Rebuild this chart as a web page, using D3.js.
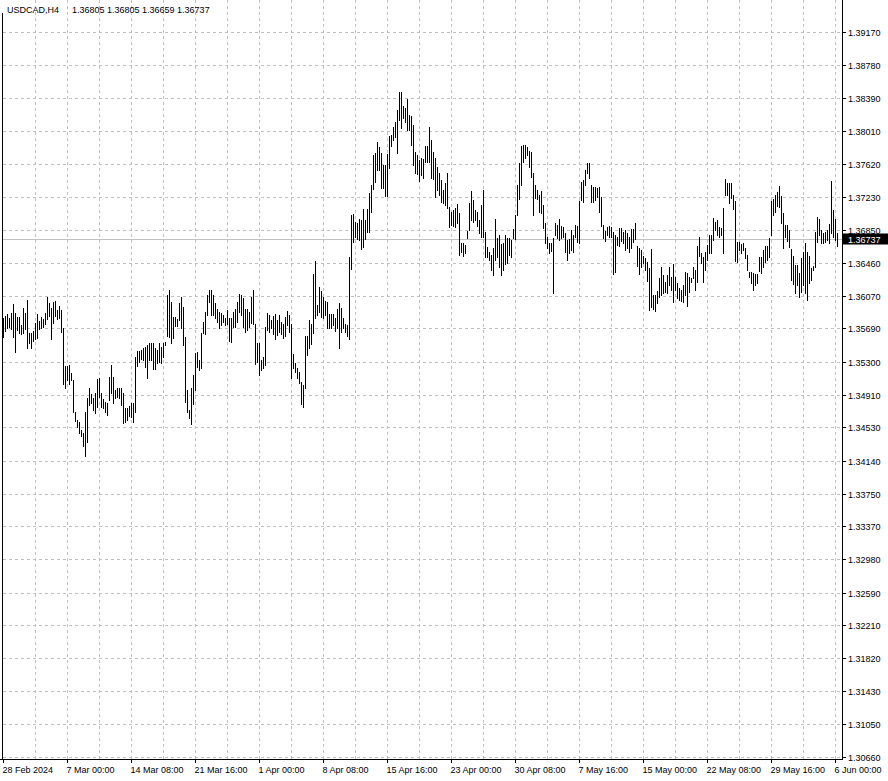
<!DOCTYPE html>
<html><head><meta charset="utf-8">
<script src="https://cdn.jsdelivr.net/npm/d3@7"></script>
<style>
html,body{margin:0;padding:0;background:#fff;}
svg{display:block;}
text{font-family:"Liberation Sans",Arial,sans-serif;font-size:9px;fill:#000;}
</style></head>
<body><svg id="c" width="888" height="781"></svg>
<script>
const symbol = "USDCAD,H4";
const lastOHLC = ["1.36805","1.36805","1.36659","1.36737"];
const lastPrice = 1.36737;
const yTicks = ["1.39170","1.38780","1.38390","1.38010","1.37620","1.37230","1.36850","1.36460","1.36070","1.35690","1.35300","1.34910","1.34530","1.34140","1.33750","1.33370","1.32980","1.32590","1.32210","1.31820","1.31430","1.31050","1.30660"];
const xLabels = ["28 Feb 2024","7 Mar 00:00","14 Mar 08:00","21 Mar 16:00","1 Apr 00:00","8 Apr 08:00","15 Apr 16:00","23 Apr 00:00","30 Apr 08:00","7 May 16:00","15 May 00:00","22 May 08:00","29 May 16:00","6 Jun 00:00"];
const barsPerLabel = 32;
const highs = [
1.35809,1.35836,1.35856,1.35809,1.35868,1.35973,1.35868,1.35821,1.35829,1.35731,
1.35926,1.35868,1.36024,1.35633,1.35641,1.35664,1.35750,1.35856,1.35782,1.35821,
1.35797,1.35876,1.36063,1.35985,1.35926,1.36005,1.36016,1.35907,1.35954,1.35907,
1.35692,1.35249,1.35249,1.35261,1.35163,1.35085,1.34713,1.34616,1.34596,1.34498,
1.34459,1.34713,1.34870,1.34987,1.34921,1.34870,1.34929,1.35097,1.35105,1.34929,
1.34858,1.34831,1.34811,1.35124,1.35261,1.35116,1.34968,1.34987,1.34987,1.34987,
1.34929,1.34752,1.34752,1.34780,1.34811,1.34811,1.35351,1.35429,1.35429,1.35437,
1.35457,1.35476,1.35496,1.35516,1.35523,1.35516,1.35457,1.35437,1.35523,1.35476,
1.35516,1.35535,1.36083,1.36142,1.36005,1.35829,1.35829,1.35797,1.35985,1.36063,
1.35946,1.35594,1.34968,1.34733,1.34987,1.35144,1.35406,1.35418,1.35320,1.35641,
1.35770,1.35887,1.36083,1.36142,1.36142,1.36083,1.35985,1.35918,1.35887,1.35868,
1.35848,1.35809,1.35907,1.35809,1.35809,1.35887,1.35918,1.36005,1.36091,1.36083,
1.36052,1.35918,1.35918,1.35887,1.36063,1.36142,1.35738,1.35515,1.35515,1.35320,
1.35359,1.35703,1.35868,1.35848,1.35789,1.35840,1.35856,1.35789,1.35848,1.35770,
1.35738,1.35828,1.35895,1.35848,1.35738,1.35386,1.35281,1.35230,1.35183,1.35065,
1.35026,1.35605,1.35605,1.35789,1.35738,1.36325,1.36482,1.35965,1.36181,1.36130,
1.36063,1.36012,1.35997,1.35856,1.35856,1.35856,1.35809,1.35918,1.35985,1.35926,
1.35809,1.35738,1.35731,1.36529,1.37022,1.37030,1.36944,1.36924,1.36975,1.36963,
1.37092,1.36963,1.37092,1.37276,1.37374,1.37726,1.37746,1.37875,1.37824,1.37746,
1.37609,1.37609,1.37734,1.37953,1.37961,1.38059,1.38118,1.38255,1.38462,1.38462,
1.38305,1.38274,1.38384,1.38196,1.38188,1.38078,1.37757,1.37726,1.37667,1.37687,
1.37675,1.37832,1.37832,1.38059,1.37902,1.37765,1.37687,1.37589,1.37511,1.37433,
1.37315,1.37394,1.37511,1.37120,1.37061,1.37080,1.37100,1.37151,1.37049,1.36689,
1.36689,1.36670,1.36838,1.37167,1.37307,1.37198,1.37080,1.37061,1.36963,1.37139,
1.37315,1.36826,1.36650,1.36591,1.36552,1.36631,1.36971,1.36748,1.36787,1.36681,
1.36697,1.36787,1.36748,1.36748,1.36728,1.36854,1.37022,1.37374,1.37628,1.37832,
1.37844,1.37844,1.37824,1.37777,1.37765,1.37511,1.37374,1.37315,1.37257,1.37307,
1.37139,1.36932,1.36767,1.36689,1.36697,1.36748,1.36924,1.36904,1.36971,1.36893,
1.36885,1.36807,1.36728,1.36736,1.36846,1.36787,1.36904,1.36893,1.37190,1.37413,
1.37433,1.37550,1.37628,1.37628,1.37374,1.37354,1.37354,1.37335,1.37354,1.37229,
1.36904,1.36834,1.36885,1.36893,1.36885,1.36826,1.36787,1.36767,1.36865,1.36865,
1.36826,1.36846,1.36807,1.36768,1.36854,1.36854,1.36924,1.36658,1.36631,1.36611,
1.36541,1.36513,1.36474,1.36396,1.36619,1.36083,1.36083,1.36134,1.36279,1.36415,
1.36318,1.36239,1.36318,1.36415,1.36298,1.36443,1.36298,1.36220,1.36161,1.36141,
1.36200,1.36357,1.36345,1.36298,1.36279,1.36415,1.36376,1.36658,1.36768,1.36580,
1.36525,1.36592,1.36670,1.36787,1.36787,1.36983,1.36944,1.36963,1.36885,1.36865,
1.37100,1.37441,1.37394,1.37394,1.37402,1.37257,1.37190,1.36709,1.36709,1.36682,
1.36697,1.36631,1.36552,1.36357,1.36357,1.36337,1.36329,1.36329,1.36525,1.36525,
1.36611,1.36658,1.36658,1.36748,1.37190,1.37206,1.37257,1.37296,1.37362,1.37245,
1.37042,1.36905,1.36905,1.36846,1.36619,1.36541,1.36435,1.36435,1.36337,1.36513,
1.36592,1.36697,1.36592,1.36541,1.36396,1.36423,1.36826,1.36995,1.36971,1.36846,
1.36807,1.36826,1.36846,1.36916,1.37425,1.37081,1.36971,1.36805];
const lows = [
1.35594,1.35664,1.35692,1.35711,1.35680,1.35586,1.35410,1.35672,1.35641,1.35621,
1.35641,1.35680,1.35457,1.35523,1.35457,1.35547,1.35562,1.35574,1.35680,1.35692,
1.35711,1.35739,1.35797,1.35836,1.35562,1.35750,1.35836,1.35801,1.35809,1.35652,
1.35038,1.34987,1.35085,1.35038,1.35085,1.34713,1.34608,1.34537,1.34459,1.34428,
1.34314,1.34197,1.34361,1.34792,1.34811,1.34733,1.34694,1.34772,1.34889,1.34772,
1.34752,1.34713,1.34674,1.34850,1.34929,1.34811,1.34870,1.34889,1.34870,1.34792,
1.34584,1.34596,1.34616,1.34663,1.34655,1.34596,1.34713,1.35249,1.35300,1.35328,
1.35320,1.35234,1.35105,1.35320,1.35320,1.35210,1.35210,1.35281,1.35300,1.35289,
1.35359,1.35492,1.35600,1.35594,1.35523,1.35574,1.35723,1.35719,1.35789,1.35692,
1.35496,1.34831,1.34713,1.34635,1.34569,1.34803,1.34968,1.35242,1.35202,1.35222,
1.35633,1.35621,1.35848,1.36005,1.35848,1.35848,1.35809,1.35770,1.35692,1.35731,
1.35770,1.35731,1.35738,1.35543,1.35527,1.35711,1.35711,1.35770,1.35887,1.35848,
1.35711,1.35652,1.35672,1.35711,1.35750,1.35738,1.35269,1.35300,1.35144,1.35202,
1.35222,1.35261,1.35672,1.35652,1.35692,1.35621,1.35566,1.35613,1.35652,1.35621,
1.35582,1.35605,1.35731,1.35645,1.35105,1.35222,1.35175,1.35105,1.35046,1.34799,
1.34772,1.34987,1.35378,1.35457,1.35504,1.35633,1.35809,1.35848,1.35887,1.35828,
1.35809,1.35848,1.35692,1.35699,1.35692,1.35731,1.35660,1.35692,1.35465,1.35652,
1.35692,1.35652,1.35605,1.35566,1.36388,1.36709,1.36768,1.36740,1.36728,1.36623,
1.36650,1.36740,1.36826,1.36826,1.37061,1.37327,1.37413,1.37550,1.37550,1.37335,
1.37343,1.37249,1.37249,1.37578,1.37836,1.37902,1.37941,1.37746,1.38137,1.38039,
1.38157,1.38118,1.38020,1.38020,1.37844,1.37609,1.37511,1.37503,1.37425,1.37491,
1.37452,1.37648,1.37648,1.37648,1.37452,1.37440,1.37237,1.37315,1.37257,1.37178,
1.37159,1.37139,1.37100,1.36877,1.36904,1.36893,1.36885,1.36924,1.36552,1.36591,
1.36541,1.36572,1.36748,1.36846,1.36963,1.36944,1.36963,1.36893,1.36807,1.36767,
1.36767,1.36533,1.36525,1.36494,1.36376,1.36318,1.36494,1.36533,1.36415,1.36318,
1.36376,1.36447,1.36462,1.36552,1.36533,1.36748,1.36736,1.37022,1.37206,1.37374,
1.37648,1.37687,1.37726,1.37589,1.37472,1.37022,1.37217,1.37206,1.37061,1.37049,
1.36865,1.36689,1.36631,1.36572,1.36603,1.36102,1.36787,1.36748,1.36728,1.36748,
1.36767,1.36591,1.36494,1.36572,1.36611,1.36591,1.36760,1.36709,1.36689,1.37198,
1.37178,1.37374,1.37511,1.37452,1.37178,1.37178,1.37198,1.37229,1.37061,1.36893,
1.36748,1.36720,1.36787,1.36760,1.36760,1.36329,1.36357,1.36670,1.36658,1.36720,
1.36697,1.36611,1.36631,1.36592,1.36631,1.36709,1.36736,1.36423,1.36329,1.36415,
1.36455,1.36376,1.36251,1.35907,1.35938,1.35915,1.35899,1.35993,1.36063,1.36083,
1.36102,1.36122,1.36102,1.36200,1.36141,1.36005,1.36141,1.36044,1.36024,1.36016,
1.36005,1.36083,1.35954,1.36122,1.36239,1.36279,1.36141,1.36239,1.36541,1.36455,
1.36239,1.36376,1.36494,1.36572,1.36572,1.36728,1.36846,1.36787,1.36768,1.36787,
1.36572,1.37257,1.37257,1.37159,1.37218,1.37088,1.36486,1.36474,1.36611,1.36572,
1.36611,1.36513,1.36376,1.36298,1.36228,1.36141,1.36200,1.36220,1.36368,1.36337,
1.36415,1.36474,1.36494,1.36533,1.36787,1.37022,1.37061,1.37128,1.37120,1.36932,
1.36631,1.36768,1.36721,1.36650,1.36259,1.36212,1.36110,1.36200,1.36056,1.36122,
1.36200,1.36110,1.36024,1.36220,1.36259,1.36376,1.36415,1.36709,1.36787,1.36697,
1.36697,1.36709,1.36728,1.36697,1.36807,1.36760,1.36728,1.36659];

const svg = d3.select("#c");
svg.append("rect").attr("width",888).attr("height",781).attr("fill","#fff");

const plotRight = 842, plotBottom = 759;
const x = d3.scaleLinear().domain([0, highs.length - 1]).range([3, 837]);
const y = d3.scaleLinear().domain([+yTicks[yTicks.length-1], +yTicks[0]]).range([757, 32]);
const crisp = v => Math.round(v) + 0.5;

const grid = svg.append("g").attr("stroke","#c0c0c0").attr("stroke-dasharray","3,3").attr("stroke-width",1);
for (let i = barsPerLabel/2; i < highs.length; i += barsPerLabel/2) {
  grid.append("line").attr("x1",crisp(x(i))).attr("x2",crisp(x(i))).attr("y1",0).attr("y2",plotBottom);
}
yTicks.forEach(t => {
  const yy = crisp(y(+t));
  grid.append("line").attr("x1",3).attr("x2",plotRight).attr("y1",yy).attr("y2",yy);
});

svg.append("line").attr("x1",3).attr("x2",plotRight).attr("y1",crisp(y(lastPrice))).attr("y2",crisp(y(lastPrice)))
  .attr("stroke","#c0c0c0").attr("stroke-width",1);

const bars = svg.append("g").attr("stroke","#000").attr("stroke-width",1);
highs.forEach((h,i) => {
  const xx = crisp(x(i));
  const y1 = Math.round(y(h)), y2 = Math.round(y(lows[i]));
  bars.append("line").attr("x1",xx).attr("x2",xx).attr("y1",y1).attr("y2",Math.max(y2+1,y1+1));
});

const ax = svg.append("g").attr("stroke","#000").attr("stroke-width",1);
ax.append("line").attr("x1",plotRight+0.5).attr("x2",plotRight+0.5).attr("y1",0).attr("y2",plotBottom+1);
ax.append("line").attr("x1",0).attr("x2",plotRight+1).attr("y1",plotBottom+0.5).attr("y2",plotBottom+0.5);
ax.append("line").attr("x1",2.5).attr("x2",2.5).attr("y1",13).attr("y2",plotBottom);

yTicks.forEach(t => {
  const yy = crisp(y(+t));
  ax.append("line").attr("x1",plotRight).attr("x2",plotRight+4).attr("y1",yy).attr("y2",yy);
  svg.append("text").attr("x",848).attr("y",yy+3.5).text(t);
});

xLabels.forEach((lab,k) => {
  const xx = crisp(x(k*barsPerLabel));
  ax.append("line").attr("x1",xx).attr("x2",xx).attr("y1",plotBottom).attr("y2",plotBottom+4);
  svg.append("text").attr("x",xx-1).attr("y",773).text(lab);
});

const py = crisp(y(lastPrice));
svg.append("rect").attr("x",843).attr("y",py-6).attr("width",45).attr("height",11).attr("fill","#000");
svg.append("text").attr("x",848).attr("y",py+3.5).style("fill","#fff").text(lastPrice.toFixed(5));

svg.append("text").attr("x",7).attr("y",13).text(symbol);
svg.append("text").attr("x",72).attr("y",13).text(lastOHLC.join(" "));
</script></body></html>
